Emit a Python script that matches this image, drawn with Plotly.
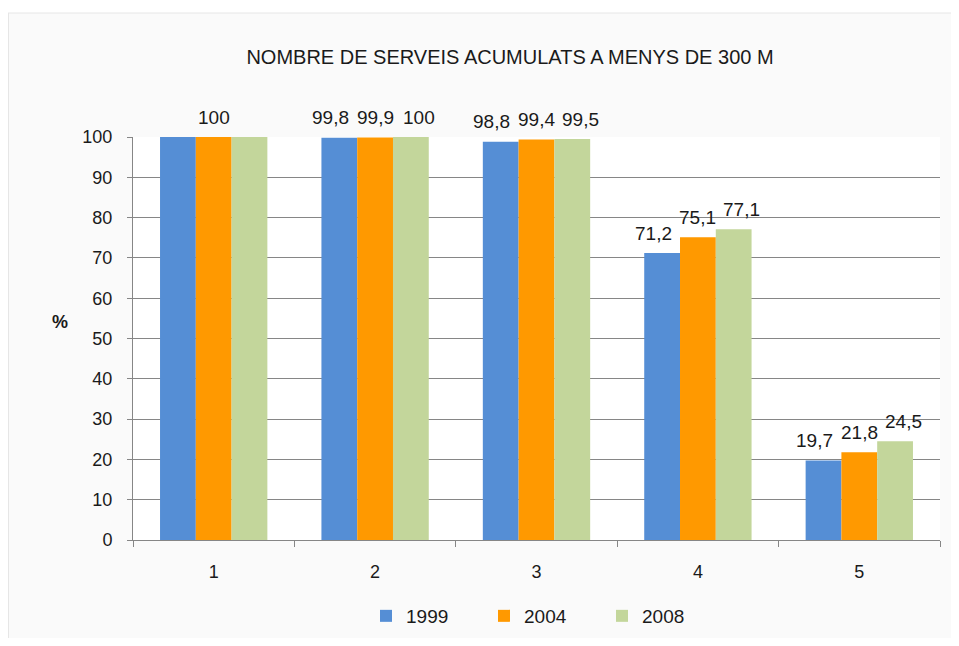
import plotly.graph_objects as go

categories = ["1", "2", "3", "4", "5"]
series_names = ["1999", "2004", "2008"]
values_1999 = [100, 99.8, 98.8, 71.2, 19.7]
values_2004 = [100, 99.9, 99.4, 75.1, 21.8]
values_2008 = [100, 100, 99.5, 77.1, 24.5]
show_1999 = [False, True, True, True, True]
show_2004 = [True, True, True, True, True]
show_2008 = [False, True, True, True, True]
colors = ["#558ED5", "#FF9900", "#C3D69B"]
y_ticks = list(range(0, 101, 10))
title_text = "NOMBRE DE SERVEIS ACUMULATS A MENYS DE 300 M"

FONT = "Liberation Sans, Arial, sans-serif"
W, H = 943, 630
# plot area in figure px: x 125..932, y 129..532
PL, PR, PT, PB = 125, 932, 129, 532
PW, PH = PR - PL, PB - PT
BARGAP = 0.335
BAR_PX = PW / len(categories) * (1 - BARGAP) / len(series_names)
# extra horizontal spread of the value labels (px), per series
LABEL_SPREAD = [-9, 0, 8]
LABEL_LIFT = 20


def fmt(v):
    return ("%g" % v).replace(".", ",")


def px_x(x):
    return (x - PL) / PW


def px_y(y):
    return (PB - y) / PH


fig = go.Figure()
annotations = []
all_vals = [values_1999, values_2004, values_2008]
all_show = [show_1999, show_2004, show_2008]
for i, (name, vals, show, col) in enumerate(zip(series_names, all_vals,
                                                all_show, colors)):
    fig.add_trace(go.Bar(
        x=categories, y=vals, name=name,
        marker=dict(color=col, line=dict(width=0)),
        hoverinfo="x+y+name",
    ))
    offset = (i - (len(series_names) - 1) / 2) * BAR_PX + LABEL_SPREAD[i]
    for j, (v, s) in enumerate(zip(vals, show)):
        if not s:
            continue
        annotations.append(dict(
            x=j, y=v, xref="x", yref="y", text=fmt(v), showarrow=False,
            xanchor="center", yanchor="middle", xshift=offset,
            yshift=LABEL_LIFT,
            font=dict(family=FONT, size=19, color="#1a1a1a")))

annotations.append(dict(text="<b>%</b>", x=px_x(52), y=px_y(314),
                        xref="paper", yref="paper", xanchor="center",
                        yanchor="middle", showarrow=False,
                        font=dict(family=FONT, size=18, color="#1a1a1a")))

fig.update_layout(
    width=W, height=H,
    margin=dict(l=PL, r=W - PR, t=PT, b=H - PB, autoexpand=False),
    paper_bgcolor="#FAFAFA", plot_bgcolor="#FFFFFF",
    barmode="group", bargap=BARGAP, bargroupgap=0,
    font=dict(family=FONT, size=19, color="#1a1a1a"),
    title=dict(text=title_text, x=502 / W, xanchor="center",
               y=1 - 49 / H, yanchor="middle", yref="container",
               font=dict(family=FONT, size=20, color="#1a1a1a")),
    showlegend=True,
    legend=dict(orientation="h", x=px_x(535), xanchor="center", y=px_y(608),
                yanchor="middle", font=dict(family=FONT, size=19),
                itemwidth=30, bgcolor="rgba(0,0,0,0)",
                entrywidthmode="pixels", entrywidth=73),
    xaxis=dict(type="category", categoryorder="array",
               categoryarray=categories, range=[-0.5, len(categories) - 0.5],
               tickson="boundaries", ticks="outside",
               ticklen=6, tickcolor="#868686", showline=True,
               linecolor="#868686", linewidth=1, showgrid=False,
               tickfont=dict(family=FONT, size=18), ticklabelstandoff=15),
    yaxis=dict(range=[0, 100], tickvals=y_ticks, ticks="outside", ticklen=5,
               tickcolor="#868686", showline=True, linecolor="#868686",
               linewidth=1, showgrid=True, gridcolor="#868686", gridwidth=1,
               zeroline=False, tickfont=dict(family=FONT, size=18),
               ticklabelstandoff=11),
    annotations=annotations,
)

# thin white strip above the chart frame (page background) and frame edge
fig.add_shape(type="rect", xref="paper", yref="paper",
              x0=px_x(-5), x1=px_x(W + 5), y0=px_y(5), y1=px_y(-5),
              fillcolor="#FFFFFF", line=dict(width=0), layer="below")
fig.add_shape(type="line", xref="paper", yref="paper",
              x0=px_x(0), x1=px_x(W + 5), y0=px_y(5), y1=px_y(5),
              line=dict(color="#E6E6E6", width=1), layer="below")
fig.add_shape(type="line", xref="paper", yref="paper",
              x0=px_x(0.5), x1=px_x(0.5), y0=px_y(H + 5), y1=px_y(5),
              line=dict(color="#E6E6E6", width=1), layer="below")

fig.write_html("out.html")
